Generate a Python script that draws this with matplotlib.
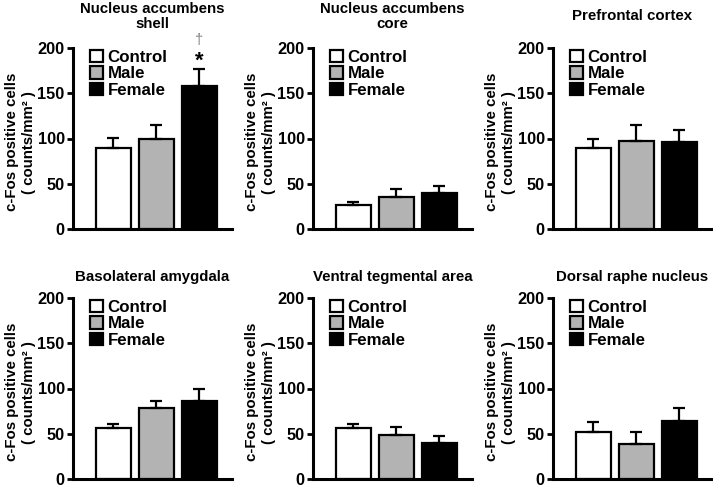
import matplotlib
matplotlib.use("Agg")
import matplotlib.pyplot as plt
from matplotlib.patches import Patch

plt.rcParams['font.family'] = ['Liberation Sans', 'DejaVu Sans']
plt.rcParams['font.weight'] = 'bold'

groups = ["Control", "Male", "Female"]
colors = ["#ffffff", "#b3b3b3", "#000000"]

titles = ["Nucleus accumbens\nshell", "Nucleus accumbens\ncore", "Prefrontal cortex",
          "Basolateral amygdala", "Ventral tegmental area", "Dorsal raphe nucleus"]

nac_shell = [90, 99.5, 158]
nac_shell_err = [10.5, 15.5, 19]
nac_core = [26, 35, 40]
nac_core_err = [3.5, 9, 8]
pfc = [90, 97, 96]
pfc_err = [9, 18, 13]
bla = [56, 78, 86]
bla_err = [5, 8, 13]
vta = [56, 49, 39.5]
vta_err = [5, 8, 8]
drn = [51.5, 39, 64]
drn_err = [11.5, 12.5, 14]

means = [nac_shell, nac_core, pfc, bla, vta, drn]
errs = [nac_shell_err, nac_core_err, pfc_err, bla_err, vta_err, drn_err]

yticks = [0, 50, 100, 150, 200]

W, H = 713, 487
fig = plt.figure(figsize=(W / 100, H / 100), dpi=100)

lefts = [73, 313, 553]
tops = [48, 298]
aw, ah = 159, 181

for i in range(6):
    r, c = divmod(i, 3)
    l = lefts[c]
    t = tops[r]
    ax = fig.add_axes([l / W, 1 - (t + ah) / H, aw / W, ah / H])
    x = [0, 1, 2]
    ax.bar(x, means[i], width=0.8, color=colors, edgecolor='black', linewidth=1.6,
           yerr=[[0, 0, 0], errs[i]], capsize=4.5,
           error_kw=dict(ecolor='black', elinewidth=1.6, capthick=1.6), zorder=2)
    ax.set_xlim(-0.94, 2.76)
    ax.set_ylim(0, 200)
    ax.set_yticks(yticks)
    ax.set_yticklabels([str(v) for v in yticks], fontsize=11.8, fontweight='bold')
    ax.set_xticks([])
    for s in ['top', 'right']:
        ax.spines[s].set_visible(False)
    for s in ['left', 'bottom']:
        ax.spines[s].set_linewidth(2.2)
    ax.tick_params(axis='y', direction='out', length=4, width=2.0, pad=2)
    ty = 1.175 if r == 0 else 1.117
    ax.text(0.5, ty, titles[i], transform=ax.transAxes, ha='center', va='center',
            fontsize=10.8, fontweight='bold', linespacing=1.1)
    ax.text(-0.33, 0.48, "c-Fos positive cells\n( counts/mm² )", transform=ax.transAxes,
            rotation=90, ha='center', va='center', fontsize=10.8, fontweight='bold',
            linespacing=1.3)
    handles = [Patch(facecolor=colors[k], edgecolor='black', linewidth=1.6, label=groups[k])
               for k in range(3)]
    ax.legend(handles=handles, loc='upper left', bbox_to_anchor=(0.11, 0.99),
              frameon=False, handlelength=0.75, handleheight=0.75,
              handletextpad=0.25, labelspacing=0.08, borderpad=0, borderaxespad=0,
              prop={'weight': 'bold', 'size': 12.2})
    if i == 0:
        ax.text(2, 185, "*", ha='center', va='center', fontsize=16, fontweight='bold',
                clip_on=False)
        ax.text(2, 209, "†", ha='center', va='center', fontsize=10.5, fontweight='normal',
                color='#808080', clip_on=False)

fig.savefig("out.png", dpi=100)
